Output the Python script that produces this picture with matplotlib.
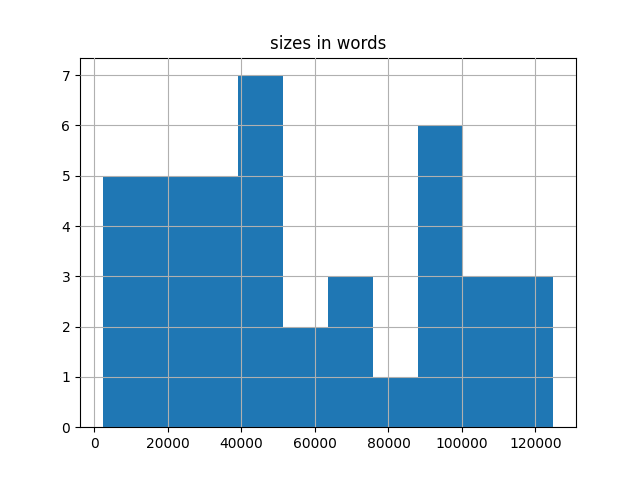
import matplotlib
matplotlib.use('Agg')
import matplotlib.pyplot as plt
import numpy as np

# histogram of document sizes (in words), 10 bins
word_min = 2200
word_max = 124900
bin_counts = [5, 5, 5, 7, 2, 3, 1, 6, 3, 3]

bin_edges = np.linspace(word_min, word_max, len(bin_counts) + 1)

fig, ax = plt.subplots(figsize=(6.4, 4.8), dpi=100)
ax.hist(bin_edges[:-1], bins=bin_edges, weights=bin_counts, color='#1f77b4')
ax.grid(True)
ax.set_axisbelow(False)
ax.set_title('sizes in words')

fig.savefig('out.png')
